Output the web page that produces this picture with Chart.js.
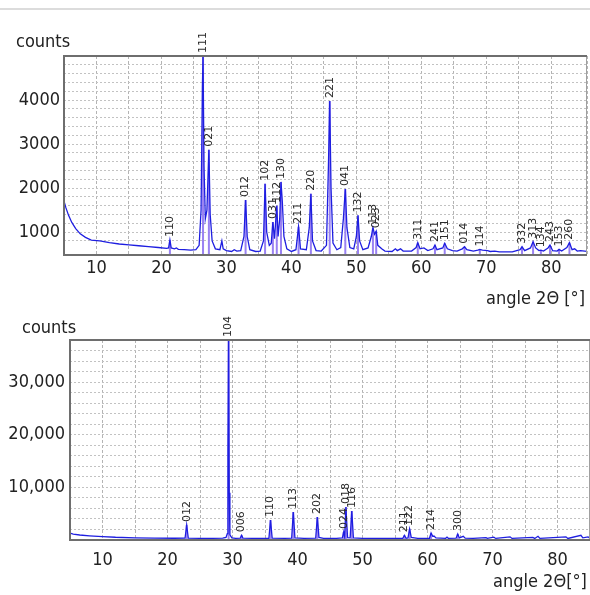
<!DOCTYPE html>
<html>
<head>
<meta charset="utf-8">
<script src="https://cdn.jsdelivr.net/npm/chart.js@4.4.1/dist/chart.umd.min.js"></script>
<style>
  html, body { margin: 0; padding: 0; background: #fff; }
  body { width: 590px; height: 595px; overflow: hidden; position: relative; font-family: "DejaVu Sans Condensed", "DejaVu Sans", sans-serif; }
  .rule { position: absolute; left: 0; top: 8px; width: 590px; height: 2px; background: #dcdcdc; }
  .cv { position: absolute; left: 0; }
  #top { top: 0; }
  #bottom { top: 300px; }
  .lbl { position: absolute; font-size: 18px; line-height: 18px; color: #222; white-space: nowrap; }
</style>
</head>
<body>
<div class="rule"></div>
<div class="cv" id="top" style="width:590px;height:310px"><canvas id="topChart"></canvas></div>
<div class="cv" id="bottom" style="width:600px;height:295px"><canvas id="bottomChart"></canvas></div>
<div class="lbl" style="left:16px;top:32px">counts</div>
<div class="lbl" style="left:486px;top:289px">angle 2Θ [°]</div>
<div class="lbl" style="left:22px;top:318px">counts</div>
<div class="lbl" style="left:493px;top:572px">angle 2Θ[°]</div>
<script>
// top pattern (aragonite), measured
const topAngle = [5.0, 5.3, 5.7, 6.2, 6.8, 7.5, 8.3, 9.2, 10.5, 12, 13.5, 15, 16.5, 18, 19.5, 20.8, 21.1, 21.3, 21.5, 22.0, 22.3, 22.6, 23.5, 24.5, 25.3, 25.8, 26.1, 26.3, 26.4, 26.55, 26.75, 27.0, 27.3, 27.5, 27.8, 28.3, 29.0, 29.3, 29.5, 30.0, 30.8, 31.2, 31.6, 32.2, 32.7, 32.95, 33.2, 33.6, 34.5, 35.2, 35.7, 35.95, 36.2, 36.6, 36.9, 37.15, 37.4, 37.75, 37.95, 38.2, 38.4, 38.6, 38.85, 39.3, 40.0, 40.7, 41.1, 41.4, 42.3, 42.75, 43.0, 43.25, 43.8, 44.6, 45.4, 45.7, 45.9, 46.1, 46.4, 47.0, 47.6, 48.0, 48.3, 48.55, 49.0, 49.6, 50.0, 50.25, 50.5, 51.0, 51.8, 52.3, 52.55, 52.8, 53.05, 53.3, 53.9, 54.4, 55.5, 56.0, 56.3, 56.8, 57.2, 58.5, 59.2, 59.45, 59.8, 60.4, 61.0, 61.8, 62.1, 62.4, 63.3, 63.6, 64.0, 64.8, 65.5, 66.3, 66.65, 67.0, 68.0, 68.7, 69.0, 69.4, 70.2, 70.6, 71.3, 72.0, 74.0, 75.2, 75.5, 75.9, 76.8, 77.2, 77.6, 78.1, 78.4, 78.8, 79.5, 79.8, 80.2, 80.9, 81.2, 81.6, 82.4, 82.8, 83.2, 83.6, 84.0, 84.5, 85.5];
const topCounts = [1700, 1550, 1380, 1220, 1080, 960, 880, 820, 800, 760, 730, 710, 690, 670, 650, 630, 640, 820, 640, 620, 640, 610, 600, 590, 600, 700, 1500, 4300, 5000, 2500, 1300, 1500, 2870, 1400, 800, 620, 600, 800, 620, 580, 560, 600, 570, 580, 900, 1730, 900, 600, 560, 570, 800, 2100, 1000, 700, 750, 1230, 850, 1600, 900, 1300, 2140, 1700, 900, 620, 560, 600, 1120, 620, 600, 1100, 1870, 800, 580, 570, 700, 2500, 3980, 2000, 750, 600, 650, 1300, 1980, 1100, 650, 620, 900, 1380, 800, 600, 640, 900, 1100, 950, 1020, 700, 620, 570, 560, 620, 580, 620, 570, 570, 650, 760, 620, 640, 580, 620, 705, 600, 640, 745, 620, 580, 570, 620, 667, 600, 570, 590, 607, 590, 580, 560, 570, 550, 550, 600, 667, 580, 640, 780, 640, 580, 590, 570, 640, 705, 580, 570, 607, 570, 650, 760, 600, 620, 570, 580, 560];
const topHkl = ['110', '111', '021', '012', '102', '031', '112', '130', '211', '220', '221', '041', '132', '113', '023', '311', '241', '151', '014', '114', '332', '313', '134', '243', '153', '260'];
const topHklPos = [21.3, 26.4, 27.3, 32.95, 35.95, 37.15, 37.75, 38.4, 41.1, 43.0, 45.9, 48.3, 50.25, 52.55, 53.05, 59.45, 62.1, 63.6, 66.65, 69.0, 75.5, 77.2, 78.4, 79.8, 81.2, 82.8];
const topHklTop = [820, 5000, 2870, 1730, 2100, 1230, 1600, 2140, 1120, 1870, 3980, 1980, 1380, 1100, 1020, 760, 705, 745, 667, 607, 667, 780, 590, 705, 607, 760];

// bottom pattern (calcite), measured
const botAngle = [5, 5.5, 6.5, 8, 10, 12, 15, 18, 21, 22.7, 22.95, 23.2, 25, 27, 28.5, 29.0, 29.2, 29.3, 29.4, 29.5, 29.6, 29.9, 30.5, 31.2, 31.4, 31.6, 33, 35.6, 35.85, 36.1, 38, 39.1, 39.35, 39.6, 41, 42.8, 43.05, 43.3, 44, 46, 46.9, 47.1, 47.25, 47.45, 47.7, 48.1, 48.35, 48.6, 50, 55, 56.2, 56.45, 56.7, 57.0, 57.25, 57.5, 58.5, 60.3, 60.55, 60.8, 61.0, 61.3, 62.8, 63.0, 63.2, 64.4, 64.65, 64.9, 65.5, 65.8, 67, 69.0, 69.2, 70.2, 70.5, 72.7, 73.0, 76.2, 76.5, 77.0, 77.3, 81.3, 81.6, 83.6, 83.9, 84.7, 85];
const botCounts = [1300, 1100, 950, 800, 650, 520, 420, 360, 330, 340, 2850, 340, 320, 320, 340, 500, 1200, 17000, 38000, 9000, 1000, 400, 320, 360, 900, 360, 310, 330, 3800, 350, 300, 340, 5300, 400, 300, 360, 4370, 500, 300, 300, 400, 1500, 600, 6270, 450, 400, 5500, 400, 300, 300, 330, 900, 330, 400, 2100, 500, 310, 330, 1330, 700, 760, 400, 320, 550, 320, 350, 1140, 400, 700, 350, 300, 450, 300, 550, 300, 600, 300, 500, 300, 700, 300, 600, 300, 900, 400, 600, 300];
const botHkl = ['012', '104', '006', '110', '113', '202', '024', '018', '116', '211', '122', '214', '300'];
const botHklPos = [22.95, 29.4, 31.4, 35.85, 39.35, 43.05, 47.1, 47.45, 48.35, 56.45, 57.25, 60.55, 64.65];
const botHklTop = [2850, 38000, 900, 3800, 5300, 4370, 1500, 6270, 5500, 900, 2100, 1330, 1140];

const FONT = '"DejaVu Sans Condensed", "DejaVu Sans", sans-serif';

function toXY(xs, ys) {
    return xs.map((x, i) => ({ x: x, y: ys[i] }));
}

function sticks(pos, tops, base) {
    const pts = [];
    pos.forEach((p, i) => {
        pts.push({ x: p, y: base }, { x: p, y: tops[i] }, { x: p, y: null });
    });
    return pts;
}

// hkl labels written upward above each peak
const hklPlugin = {
    id: 'hkl',
    afterDatasetsDraw(chart, args, opts) {
        const { ctx, scales: { x, y } } = chart;
        ctx.save();
        ctx.font = '11px "DejaVu Sans", sans-serif';
        ctx.fillStyle = '#2a2a2a';
        ctx.textAlign = 'left';
        ctx.textBaseline = 'middle';
        opts.text.forEach((t, i) => {
            const px = x.getPixelForValue(opts.pos[i]);
            const py = y.getPixelForValue(Math.min(opts.top[i], y.max));
            ctx.save();
            ctx.translate(px, py - 3);
            ctx.rotate(-Math.PI / 2);
            ctx.fillText(t, 0, 0);
            ctx.restore();
        });
        ctx.restore();
    }
};

const framePlugin = {
    id: 'frame',
    afterDatasetsDraw(chart) {
        const { ctx, chartArea: a } = chart;
        ctx.save();
        ctx.strokeStyle = '#a0a0a0';
        ctx.lineWidth = 1;
        ctx.beginPath();
        ctx.moveTo(a.right - 0.5, a.top);
        ctx.lineTo(a.right - 0.5, a.bottom);
        ctx.stroke();
        ctx.strokeStyle = '#6e6e6e';
        ctx.lineWidth = 2;
        ctx.beginPath();
        ctx.moveTo(a.right, a.top);
        ctx.lineTo(a.left, a.top);
        ctx.lineTo(a.left, a.bottom);
        ctx.lineTo(a.right, a.bottom);
        ctx.stroke();
        ctx.restore();
    }
};

function makeChart(id, cfg) {
    return new Chart(document.getElementById(id), {
        type: 'line',
        data: {
            datasets: [
                { data: toXY(cfg.angle, cfg.counts), borderColor: '#1e1ee0', borderWidth: 1.3, pointRadius: 0, tension: 0, order: 1 },
                { data: sticks(cfg.hklPos, cfg.hklTop, cfg.min), borderColor: '#9a82f2', borderWidth: 2, pointRadius: 0, spanGaps: false, order: 2 }
            ]
        },
        options: {
            responsive: true,
            maintainAspectRatio: false,
            animation: false,
            events: [],
            layout: { padding: { top: cfg.padTop, right: cfg.padRight, left: 0, bottom: 0 } },
            plugins: {
                legend: { display: false },
                tooltip: { enabled: false },
                hkl: { text: cfg.hkl, pos: cfg.hklPos, top: cfg.hklTop }
            },
            scales: {
                x: {
                    type: 'linear', min: cfg.xMin, max: cfg.xMax,
                    afterFit: s => { s.height = cfg.xAxisH; },
                    ticks: {
                        stepSize: 5, autoSkip: false, maxRotation: 0, padding: cfg.xPad,
                        color: '#222', font: { family: FONT, size: 18 },
                        callback: v => (v % 10 === 0 && v >= 10 && v <= 80) ? String(v) : ''
                    },
                    grid: { color: '#b4b4b4', lineWidth: 1, drawTicks: false },
                    border: { display: false, dash: [3, 2] }
                },
                y: {
                    min: cfg.min, max: cfg.max,
                    afterFit: s => { s.width = cfg.yAxisW; },
                    ticks: {
                        stepSize: cfg.step, autoSkip: false, padding: cfg.yPad,
                        color: '#222', font: { family: FONT, size: 18 },
                        callback: cfg.yLabel
                    },
                    grid: { color: '#c2c2c2', lineWidth: 1, drawTicks: false },
                    border: { display: false, dash: [2, 2] }
                }
            }
        },
        plugins: [hklPlugin, framePlugin]
    });
}

makeChart('topChart', {
    angle: topAngle, counts: topCounts, hkl: topHkl, hklPos: topHklPos, hklTop: topHklTop,
    xMin: 5, xMax: 85.5, min: 480, max: 5000, step: 200,
    padTop: 56, padRight: 2, xAxisH: 55, yAxisW: 64, xPad: 3, yPad: 4,
    yLabel: v => (v % 1000 === 0 && v >= 1000 && v <= 4000) ? String(v) : ''
});

makeChart('bottomChart', {
    angle: botAngle, counts: botCounts, hkl: botHkl, hklPos: botHklPos, hklTop: botHklTop,
    xMin: 5, xMax: 85, min: 0, max: 38000, step: 2000,
    padTop: 40, padRight: 8, xAxisH: 55, yAxisW: 70, xPad: 10, yPad: 5,
    yLabel: v => (v % 10000 === 0 && v > 0 && v < 38000) ? v.toLocaleString('en-US') : ''
});
</script>
</body>
</html>
